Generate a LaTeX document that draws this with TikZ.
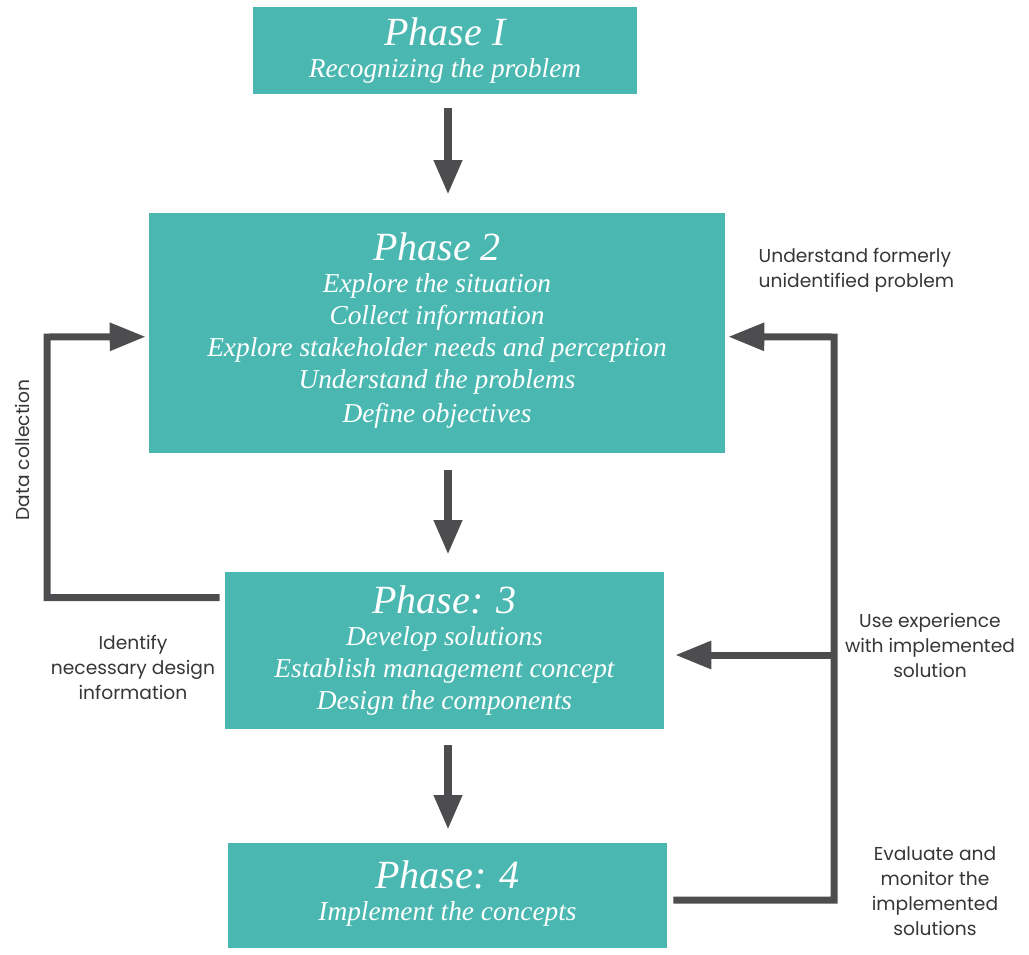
\documentclass[tikz,border=0pt]{standalone}
\usepackage{fontspec}
\setmainfont{Liberation Serif}
\setsansfont{Poppins}
\usetikzlibrary{arrows.meta,calc}
\definecolor{phaseteal}{RGB}{74,184,177}
\definecolor{arrowgray}{RGB}{77,77,79}
\tikzset{
  phasebox/.style={fill=phaseteal,text=white,align=center,inner sep=0pt,font=\itshape\fontsize{20.5}{24}\selectfont},
  flowarrow/.style={draw=arrowgray,line width=6pt,-{Triangle[length=26pt,width=20pt]}},
  looparrow/.style={draw=arrowgray,line width=5.25pt,-{Triangle[length=27pt,width=20pt]}},
  notelabel/.style={text=arrowgray!70!black,align=center,font=\sffamily\fontsize{14}{18.75}\selectfont}
}
\newcommand{\phasetitle}[1]{{\fontsize{30}{30}\selectfont #1}}
\begin{document}
\begin{tikzpicture}[x=0.75pt,y=0.75pt,yscale=-1,xscale=1]
\useasboundingbox (0,0) rectangle (1029,954);
%Phase boxes
\node[phasebox,minimum width=288pt,minimum height=65.25pt] (p1) at (445,50.5)
  {\phasetitle{Phase I}\\Recognizing the problem};
\node[phasebox,minimum width=432pt,minimum height=180pt] (p2) at (437,333)
  {\phasetitle{Phase 2}\\Explore the situation\\Collect information\\Explore stakeholder needs and perception\\Understand the problems\\[2pt]Define objectives\\[-16pt]};
\node[phasebox,minimum width=329.25pt,minimum height=117.75pt] (p3) at (444.5,650.5)
  {\phasetitle{Phase: 3}\\Develop solutions\\Establish management concept\\Design the components};
\node[phasebox,minimum width=329.25pt,minimum height=78.75pt] (p4) at (447.5,895.5)
  {\phasetitle{Phase: 4}\\Implement the concepts\\[-16pt]};
%Main flow
\draw[flowarrow] ($(p1.south)+(3,14)$) -- ($(p2.north)+(11,-18)$);
\draw[flowarrow] ($(p2.south)+(11,17)$) -- ($(p3.north)+(3.5,-17)$);
\draw[flowarrow] ($(p3.south)+(3.5,16)$) -- ($(p4.north)+(0.5,-13)$);
%Feedback loops
\coordinate (lcol) at (47,0);
\coordinate (rcol) at (834,0);
\draw[looparrow] ($(p3.north west)+(-5,26)$) -| (lcol |- 0,337) -- ($(p2.north west)+(-3,124)$);
\draw[looparrow] ($(p4.east)+(6,4.5)$) -| (rcol |- 0,337) -- ($(p2.north east)+(3,124)$);
\draw[looparrow] (rcol |- 0,655) -- ($(p3.east)+(11,4.5)$);
%Labels
\node[notelabel,rotate=90] (lbdata) at (22,450) {Data collection};
\node[notelabel] (lbident) at (133,667) {Identify\\necessary design\\information};
\node[notelabel,align=left,anchor=west] (lbunder) at (754,270) {Understand formerly\\unidentified problem};
\node[notelabel] (lbuse) at (930,645) {Use experience\\with implemented\\solution};
\node[notelabel] (lbeval) at (935,891) {Evaluate and\\monitor the\\implemented\\solutions};
\end{tikzpicture}
\end{document}
